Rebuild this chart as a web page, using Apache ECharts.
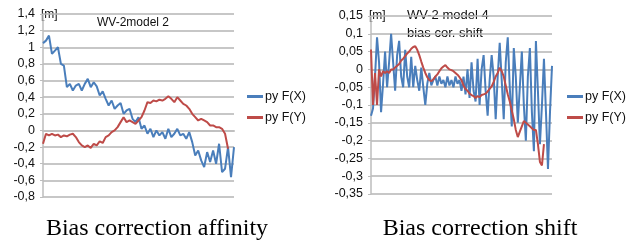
<!DOCTYPE html>
<html><head><meta charset="utf-8">
<script src="https://cdn.jsdelivr.net/npm/echarts@6/dist/echarts.min.js"></script>
<style>html,body{margin:0;padding:0;background:#fff}#c{width:633px;height:241px}</style>
</head><body><div id="c"></div>
<script>
// Left chart: bias correction affinity (WV-2 model 2)
const leftBlue = [1.05,1.08,1.14,0.92,0.96,1.00,0.80,0.78,0.52,0.56,0.48,0.54,0.56,0.48,0.56,0.62,0.52,0.58,0.53,0.42,0.47,0.38,0.30,0.36,0.26,0.30,0.33,0.20,0.24,0.26,0.14,0.10,0.16,0.02,0.06,-0.04,0.02,-0.08,0.00,-0.06,-0.02,-0.10,0.02,-0.08,-0.04,0.02,-0.06,-0.04,-0.10,-0.02,-0.14,-0.30,-0.24,-0.36,-0.44,-0.26,-0.38,-0.24,-0.40,-0.16,-0.50,-0.46,-0.20,-0.56,-0.20];
const leftRed = [-0.16,-0.04,-0.06,-0.04,-0.06,-0.05,-0.08,-0.06,-0.07,-0.05,-0.04,-0.08,-0.14,-0.18,-0.20,-0.18,-0.21,-0.16,-0.18,-0.13,-0.15,-0.08,-0.06,-0.02,0.00,0.04,0.10,0.16,0.10,0.12,0.10,0.08,0.12,0.16,0.24,0.34,0.33,0.36,0.35,0.37,0.36,0.38,0.41,0.38,0.34,0.40,0.36,0.32,0.30,0.26,0.20,0.16,0.12,0.14,0.12,0.10,0.06,0.06,0.04,0.04,0.02,-0.04,-0.22,null,null];
// Right chart: bias correction shift (WV-2 model 4)
const rightBlue = [-0.13,-0.11,-0.02,0.09,0.02,-0.12,-0.04,0.05,-0.05,0.02,0.10,0.02,-0.06,0.04,0.08,-0.02,-0.05,0.055,-0.02,-0.05,0.035,-0.05,0.01,-0.03,-0.06,0.005,-0.05,-0.10,-0.04,-0.01,-0.045,-0.03,-0.02,-0.045,-0.02,-0.04,-0.03,-0.05,-0.02,-0.045,-0.03,-0.05,-0.02,-0.04,-0.03,-0.06,-0.02,-0.07,0.00,-0.08,0.02,-0.06,-0.09,0.03,-0.10,0.00,0.04,-0.06,-0.13,-0.03,0.04,-0.02,-0.14,-0.02,0.075,-0.03,-0.14,0.02,0.09,-0.05,-0.16,0.06,-0.02,-0.15,-0.05,0.05,-0.10,-0.20,-0.02,0.06,-0.12,-0.23,0.08,-0.06,-0.21,-0.10,0.03,-0.12,-0.28,-0.12,0.01];
const rightRed = [0.056,-0.10,-0.01,-0.10,0.00,-0.02,-0.005,-0.01,-0.005,-0.01,0.0,0.0,0.005,0.01,0.015,0.025,0.03,0.037,0.045,0.05,0.058,0.063,0.065,0.055,0.04,0.022,0.005,-0.01,-0.022,-0.03,-0.033,-0.028,-0.02,-0.014,-0.005,0.003,0.008,0.012,0.005,0.0,-0.002,-0.005,-0.01,-0.015,-0.022,-0.03,-0.045,-0.055,-0.06,-0.068,-0.072,-0.075,-0.08,-0.075,-0.078,-0.072,-0.07,-0.068,-0.062,-0.055,-0.048,-0.035,-0.02,-0.01,0.005,-0.005,-0.02,-0.045,-0.07,-0.09,-0.115,-0.14,-0.17,-0.19,-0.175,-0.16,-0.145,-0.15,-0.155,-0.16,-0.165,-0.17,-0.17,-0.21,-0.26,-0.27,-0.21,null,null,null,null];
const seriesNames = ['py F(X)','py F(Y)'];
const leftTitle = 'WV-2model 2';
const rightTitle = ['WV-2 model 4','bias cor. shift'];
const captions = ['Bias correction affinity','Bias correction shift'];
const unitLabel = '[m]';
const leftRange = {min:-0.8, max:1.4, interval:0.2};
const rightRange = {min:-0.35, max:0.15, interval:0.05};

const blue = '#4a7ebb', red = '#be4b48';
const font = 'Liberation Sans, Arial, sans-serif';
const fmt = v => String(Math.round(v*100)/100).replace('.', ',');
const idx = arr => arr.map((_, i) => i);

function yAx(gi, r){
  return {type:'value', gridIndex:gi, min:r.min, max:r.max, interval:r.interval,
    axisLine:{show:true, lineStyle:{color:'#bdbdbd', width:1.5}},
    axisTick:{show:true, length:3, lineStyle:{color:'#bdbdbd'}},
    axisLabel:{formatter:fmt, color:'#111', fontFamily:font, fontSize:12.5, margin:8},
    splitLine:{show:true, lineStyle:{color:'#b4b4b4', width:1.5}}};
}
function xAx(gi, n){
  return {type:'category', gridIndex:gi, data:n, boundaryGap:false,
    axisLine:{show:true, lineStyle:{color:'#c0c0c0', width:2}},
    axisTick:{show:false}, axisLabel:{show:false}, splitLine:{show:false}};
}
function line(name, data, gi, color){
  return {type:'line', name, data, xAxisIndex:gi, yAxisIndex:gi, symbol:'none',
    lineStyle:{color, width:2}, itemStyle:{color}, animation:false, connectNulls:false};
}
function legend(left){
  return {left, top:90, padding:0, orient:'vertical', itemWidth:16, itemHeight:3, itemGap:8, icon:'rect',
    data:seriesNames, textStyle:{fontFamily:font, fontSize:12.5, color:'#111', padding:[0,0,0,-3]}, selectedMode:false};
}

const chart = echarts.init(document.getElementById('c'), null, {renderer:'canvas'});
chart.setOption({
  animation:false,
  grid:[{left:43, right:399, top:14, bottom:44},{left:371, right:81, top:16, bottom:47}],
  xAxis:[xAx(0, idx(leftBlue)), xAx(1, idx(rightBlue))],
  yAxis:[yAx(0, leftRange), yAx(1, rightRange)],
  legend:[legend(247), legend(567)],
  series:[
    line(seriesNames[0], leftBlue, 0, blue),
    line(seriesNames[1], leftRed, 0, red),
    line(seriesNames[0], rightBlue, 1, blue),
    line(seriesNames[1], rightRed, 1, red)
  ],
  graphic:[
    {type:'text', left:41, top:9, style:{text:unitLabel, font:'12px '+font, fill:'#111'}},
    {type:'text', left:97, top:17, style:{text:leftTitle, font:'12px '+font, fill:'#111'}},
    {type:'text', left:369, top:10, style:{text:unitLabel, font:'12px '+font, fill:'#111'}},
    {type:'text', left:407, top:9, style:{text:rightTitle[0], font:'13px '+font, fill:'#111'}},
    {type:'text', left:407, top:27, style:{text:rightTitle[1], font:'13px '+font, fill:'#111'}},
    {type:'text', x:157, y:229, style:{text:captions[0], font:'24px "Liberation Serif", "Times New Roman", serif', fill:'#000', align:'center', verticalAlign:'middle'}},
    {type:'text', x:480, y:229, style:{text:captions[1], font:'24px "Liberation Serif", "Times New Roman", serif', fill:'#000', align:'center', verticalAlign:'middle'}}
  ]
});
</script></body></html>
